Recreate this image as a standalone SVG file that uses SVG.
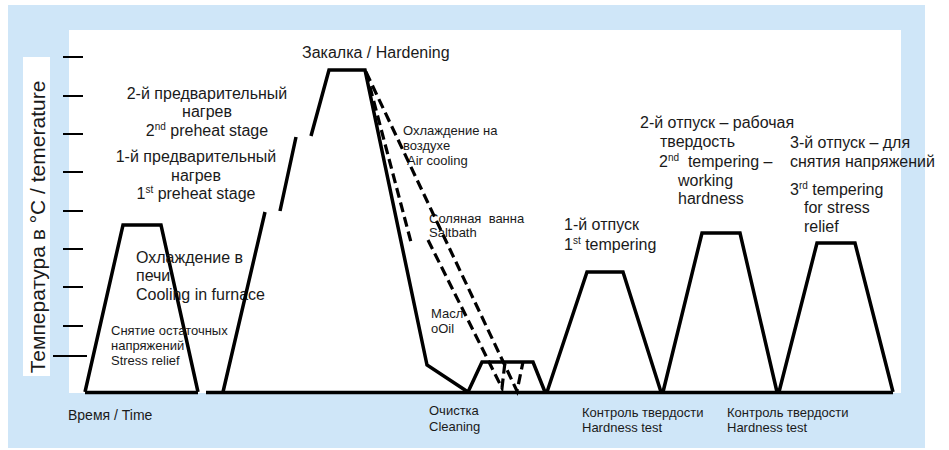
<svg xmlns="http://www.w3.org/2000/svg" width="949" height="450" viewBox="0 0 949 450">
<style>
.t{font-family:"Liberation Sans",Arial,sans-serif;fill:#1a1a1a}
.s13{font-size:13px}
.s16{font-size:16px}
.ln{fill:none;stroke:#000;stroke-width:3.5;stroke-linejoin:miter;stroke-linecap:butt}
.ds{fill:none;stroke:#000;stroke-width:3.2;stroke-dasharray:10 5}
.tk{stroke:#000;stroke-width:2}
</style>
<rect x="8" y="5" width="917" height="443" fill="#cfe6f8"/>
<rect x="69" y="30" width="832" height="363" fill="#fff"/>
<rect x="23" y="57" width="27" height="319" fill="#fff"/>
<g id="axis">
<text class="t" font-size="21" text-anchor="middle" transform="translate(45,227) rotate(-90)">Температура в °C / temerature</text>
<path class="tk" d="M63 57H83M63 96H83M63 134H83M63 172H83M63 211H83M63 249H83M63 287H83M63 326H83M53 356H87"/>
<path class="ln" stroke-width="3" d="M85 392.5H198M206 392.5H893"/>
<text class="t" font-size="14" x="68" y="420">Время / Time</text>
</g>
<g id="stress-relief">
<path class="ln" d="M85 392L123 225H161L198 392"/>
<text class="t s16" x="136" y="263">Охлаждение в</text>
<text class="t s16" x="136" y="281">печи</text>
<text class="t s16" x="136" y="300">Cooling in furnace</text>
<text class="t s13" x="111" y="335">Снятие остаточных</text>
<text class="t s13" x="111" y="350">напряжений</text>
<text class="t s13" x="111" y="365">Stress relief</text>
</g>
<g id="preheat">
<text class="t s16" text-anchor="middle" x="207" y="99">2-й предварительный</text>
<text class="t s16" text-anchor="middle" x="207" y="117">нагрев</text>
<text class="t s16" text-anchor="middle" x="207" y="136">2<tspan font-size="10" dy="-6">nd</tspan><tspan dy="6"> preheat stage</tspan></text>
<text class="t s16" text-anchor="middle" x="196" y="162">1-й предварительный</text>
<text class="t s16" text-anchor="middle" x="196" y="181">нагрев</text>
<text class="t s16" text-anchor="middle" x="196" y="199">1<tspan font-size="10" dy="-6">st</tspan><tspan dy="6"> preheat stage</tspan></text>
</g>
<g id="hardening">
<path class="ln" d="M223 392L265 212M280 211L296 137M311 136L329 70H365L427 365L468 392"/>
<text class="t s16" x="302" y="58">Закалка / Hardening</text>
<text class="t s13" x="403" y="135">Охлаждение на</text>
<text class="t s13" x="403" y="150">воздухе</text>
<text class="t s13" x="407" y="165">Air cooling</text>
<text class="t s13" x="429" y="223" xml:space="preserve">Соляная  ванна</text>
<text class="t s13" x="429" y="237">Saltbath</text>
<text class="t s13" x="431" y="318">Масл</text>
<text class="t s13" x="431" y="333">oOil</text>
</g>
<g id="connectors">
<path class="ds" d="M366 72L412 246"/>
<path class="ds" d="M428 240L502 388L505 362"/>
<path class="ds" d="M366 72L517 391L523 362"/>
</g>
<g id="cleaning">
<path class="ln" d="M468 392L482 362H533L545 392"/>
<text class="t s13" x="429" y="415">Очистка</text>
<text class="t s13" x="429" y="431">Cleaning</text>
</g>
<g id="tempering-1">
<path class="ln" d="M547 392L587 272H623L661 392"/>
<text class="t s16" x="564" y="230">1-й отпуск</text>
<text class="t s16" x="564" y="250">1<tspan font-size="10" dy="-6">st</tspan><tspan dy="6"> tempering</tspan></text>
<text class="t s13" x="582" y="417">Контроль твердости</text>
<text class="t s13" x="582" y="432">Hardness test</text>
</g>
<g id="tempering-2">
<path class="ln" d="M663 392L702 233H740L777 392"/>
<text class="t s16" x="640" y="128">2-й отпуск – рабочая</text>
<text class="t s16" x="660" y="147">твердость</text>
<text class="t s16" x="659" y="167" xml:space="preserve">2<tspan font-size="10" dy="-6">nd</tspan><tspan dy="6">  tempering –</tspan></text>
<text class="t s16" x="678" y="186">working</text>
<text class="t s16" x="678" y="204">hardness</text>
<text class="t s13" x="727" y="417">Контроль твердости</text>
<text class="t s13" x="727" y="432">Hardness test</text>
</g>
<g id="tempering-3">
<path class="ln" d="M779 392L817 243H855L893 392"/>
<text class="t s16" x="790" y="148">3-й отпуск – для</text>
<text class="t s16" x="790" y="167">снятия напряжений</text>
<text class="t s16" x="790" y="195">3<tspan font-size="10" dy="-6">rd</tspan><tspan dy="6"> tempering</tspan></text>
<text class="t s16" x="804" y="213">for stress</text>
<text class="t s16" x="804" y="232">relief</text>
</g>
</svg>
